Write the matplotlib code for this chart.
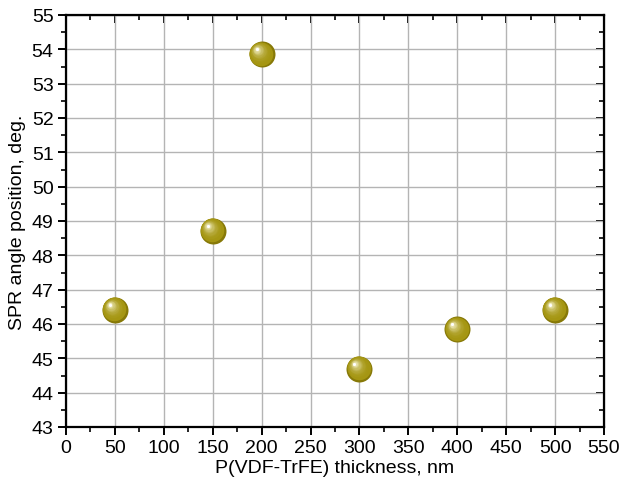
import matplotlib
matplotlib.use('Agg')
import matplotlib.pyplot as plt
from matplotlib.ticker import MultipleLocator
from matplotlib.colors import to_rgb

thickness = [50, 150, 200, 300, 400, 500]
spr_angle = [46.42, 48.72, 53.86, 44.70, 45.84, 46.42]

plt.rcParams['font.family'] = ['Liberation Sans', 'DejaVu Sans']

fig = plt.figure(figsize=(6.2, 4.85), dpi=100)
ax = fig.add_axes([66 / 620, 1 - 428 / 485, 538 / 620, 412 / 485])

ax.set_xlim(0, 550)
ax.set_ylim(43, 55)
ax.xaxis.set_major_locator(MultipleLocator(50))
ax.xaxis.set_minor_locator(MultipleLocator(25))
ax.yaxis.set_major_locator(MultipleLocator(1))
ax.yaxis.set_minor_locator(MultipleLocator(0.5))
ax.grid(True, which='major', color='#b4b4b4', linewidth=1.0)
ax.set_axisbelow(True)

for s in ax.spines.values():
    s.set_linewidth(1.6)

ax.tick_params(which='major', direction='out', length=6, width=1.4,
               labelsize=14, pad=3)
ax.tick_params(which='minor', direction='out', length=3.5, width=1.2)
# mirrored inward ticks on top/right
axt = ax.secondary_xaxis('top')
axt.xaxis.set_major_locator(MultipleLocator(50))
axt.xaxis.set_minor_locator(MultipleLocator(25))
axt.tick_params(which='major', direction='in', length=6, width=1.4, labeltop=False)
axt.tick_params(which='minor', direction='in', length=3.5, width=1.2)
axr = ax.secondary_yaxis('right')
axr.yaxis.set_major_locator(MultipleLocator(1))
axr.yaxis.set_minor_locator(MultipleLocator(0.5))
axr.tick_params(which='major', direction='in', length=6, width=1.4, labelright=False)
axr.tick_params(which='minor', direction='in', length=3.5, width=1.2)

ax.set_xlabel('P(VDF-TrFE) thickness, nm', fontsize=14, labelpad=2)
ax.set_ylabel('SPR angle position, deg.', fontsize=14, labelpad=4)

# shaded spheres built from stacked discs
px_x = 550 / 538
px_y = 12 / 412
diam = 26
ax.scatter(thickness, spr_angle, s=(diam * 0.72) ** 2, color='#877908',
           linewidths=0, zorder=3)
c0 = to_rgb('#a59612')
c1 = to_rgb('#f4f0c8')
n = 14
for i in range(n):
    t = i / (n - 1)
    d = (diam - 2.5) * (1 - t) + 3 * t
    ox = -4.5 * t ** 0.8 - 0.6
    oy = 4.5 * t ** 0.8 + 0.6
    col = tuple(a + (b - a) * t ** 2.2 for a, b in zip(c0, c1))
    ax.scatter([x + ox * px_x for x in thickness],
               [y + oy * px_y for y in spr_angle],
               s=(d * 0.72) ** 2, color=col, linewidths=0, zorder=3)
ax.scatter([x - 5 * px_x for x in thickness],
           [y + 5 * px_y for y in spr_angle],
           s=(3 * 0.72) ** 2, color='white', linewidths=0, zorder=3)

fig.savefig('out.png', dpi=100, facecolor='white')
